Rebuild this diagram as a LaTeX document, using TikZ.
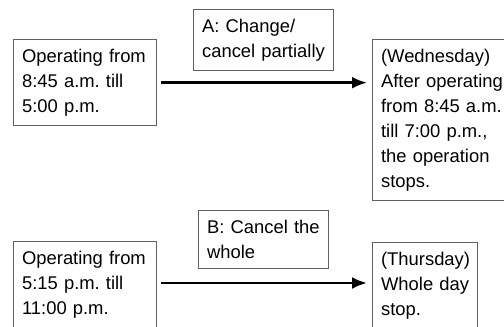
\documentclass[tikz,border=0pt]{standalone}
\usepackage{fontspec}
\setmainfont{Liberation Sans}
\usepackage{tikz}
\usetikzlibrary{positioning,arrows.meta}
\frenchspacing

\begin{document}
\begin{tikzpicture}[x=1pt,y=-1pt,
  box/.style={draw=black!62,line width=1.2pt,anchor=north west,align=left,
    inner xsep=8.5pt,inner ysep=9.5pt,font=\fontsize{18.4}{25}\selectfont},
  flow/.style={line width=2.6pt,-{Latex[length=15pt,width=12pt]},shorten <=4pt,shorten >=5pt}]
\useasboundingbox (0,0) rectangle (504,327);
\clip (0,0) rectangle (504,327);
% case A
\node[box,text width=126pt] (opA) at (13,39) {Operating from\\8:45 a.m. till\\5:00 p.m.};
\node[box,text width=123pt] (labA) at (193,9) {A: Change/\\cancel partially};
\node[box,text width=140pt] (resA) at (372,39) {(Wednesday)\\After operating\\from 8:45 a.m.\\till 7:00 p.m.,\\the operation\\stops.};
\draw[flow] (opA.east) -- (opA.east -| resA.west);
% case B
\node[box,text width=126pt,text depth=80pt] (opB) at (13,241) {Operating from\\5:15 p.m. till\\11:00 p.m.};
\node[box,text width=113pt] (labB) at (198,210) {B: Cancel the\\whole};
\node[box,text width=88pt,text depth=80pt] (resB) at (372,242) {(Thursday)\\Whole day\\stop.};
\coordinate (midB) at ([yshift=-42pt]opB.north east);
\draw[flow] (midB) -- (midB -| resB.west);
\end{tikzpicture}
\end{document}
